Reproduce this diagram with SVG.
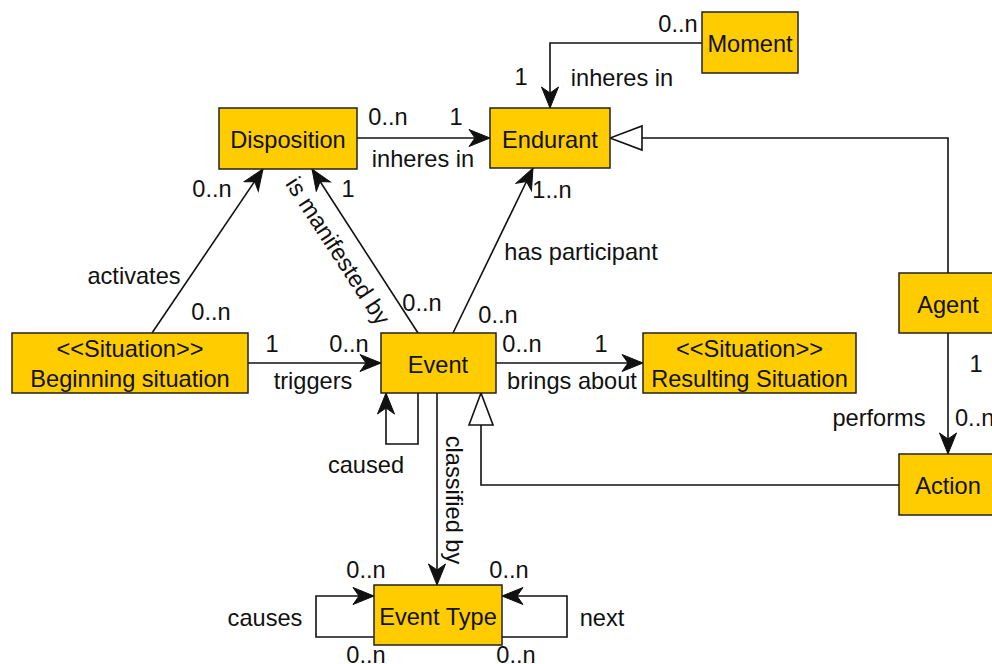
<svg xmlns="http://www.w3.org/2000/svg" width="992" height="664" viewBox="0 0 992 664">
<defs>
<style>
.box{fill:#FFCC00;stroke:#222;stroke-width:1.5}
.t{font-family:"Liberation Sans",Arial,sans-serif;font-size:23.6px;fill:#111}
.m{text-anchor:middle}
.e{stroke:#111;stroke-width:1.6;fill:none}
.a{marker-end:url(#arr)}
.g{marker-end:url(#tri)}
</style>
<marker id="arr" viewBox="-22 -10 24 20" refX="0" refY="0" markerWidth="24" markerHeight="20" markerUnits="userSpaceOnUse" orient="auto">
<path d="M0,0 L-21,-8.5 L-15,0 L-21,8.5 Z" fill="#111" stroke="#111" stroke-width="1"/>
</marker>
<marker id="tri" viewBox="-34 -14 36 28" refX="0" refY="0" markerWidth="36" markerHeight="28" markerUnits="userSpaceOnUse" orient="auto">
<path d="M0,0 L-32,-12 L-32,12 Z" fill="#fff" stroke="#111" stroke-width="1.6"/>
</marker>
</defs>
<rect width="992" height="664" fill="#fff"/>

<g id="connectors">
<path class="e a" d="M702,43 H550 V108"/>
<path class="e a" d="M357,138 H490"/>
<path class="e g" d="M948,273 V138 H610"/>
<path class="e a" d="M152,333 L263,169"/>
<path class="e a" d="M418,333 L312,169"/>
<path class="e a" d="M453,333 L533,168"/>
<path class="e a" d="M248,363 H381"/>
<path class="e a" d="M496,363 H643"/>
<path class="e a" d="M418,393 V444 H386 V393"/>
<path class="e a" d="M437,393 V585"/>
<path class="e g" d="M899,485 H481 V393"/>
<path class="e a" d="M948,333 V454"/>
<path class="e a" d="M374,637 H316 V596 H374"/>
<path class="e a" d="M502,637 H567 V596 H502"/>
</g>

<g id="labels">
<text class="t m" x="678" y="32">0..n</text>
<text class="t m" x="521" y="85">1</text>
<text class="t m" x="622" y="86">inheres in</text>
<text class="t m" x="388" y="125">0..n</text>
<text class="t m" x="456" y="125">1</text>
<text class="t m" x="423" y="167">inheres in</text>
<text class="t m" x="212" y="197">0..n</text>
<text class="t m" x="348" y="197">1</text>
<text class="t m" x="422" y="311">0..n</text>
<text class="t m" x="498" y="323">0..n</text>
<text class="t m" x="581" y="260">has participant</text>
<text class="t m" x="552" y="198">1..n</text>
<text class="t m" x="134" y="284">activates</text>
<text class="t m" x="211" y="320">0..n</text>
<text class="t m" x="272" y="352">1</text>
<text class="t m" x="349" y="352">0..n</text>
<text class="t m" x="313" y="389">triggers</text>
<text class="t m" x="366" y="473">caused</text>
<text class="t m" x="522" y="352">0..n</text>
<text class="t m" x="601" y="352">1</text>
<text class="t m" x="572" y="389">brings about</text>
<text class="t m" x="976" y="372">1</text>
<text class="t m" x="879" y="426">performs</text>
<text class="t" x="955" y="426">0..n</text>
<text class="t m" x="366" y="578">0..n</text>
<text class="t m" x="509" y="578">0..n</text>
<text class="t m" x="366" y="663">0..n</text>
<text class="t m" x="516" y="663">0..n</text>
<text class="t m" x="265" y="626">causes</text>
<text class="t m" x="602" y="626">next</text>
<text class="t m" transform="translate(338,251) rotate(57)" y="8">is manifested by</text>
<text class="t m" transform="translate(454,500) rotate(90)" y="8">classified by</text>
</g>

<g id="moment"><rect class="box" x="702" y="12" width="96" height="61"/><text class="t m" x="750" y="52">Moment</text></g>
<g id="endurant"><rect class="box" x="490" y="108" width="120" height="60"/><text class="t m" x="550" y="148">Endurant</text></g>
<g id="disposition"><rect class="box" x="219" y="108" width="138" height="61"/><text class="t m" x="288" y="148">Disposition</text></g>
<g id="beginning"><rect class="box" x="12" y="333" width="236" height="60"/><text class="t m" x="130" y="357">&lt;&lt;Situation&gt;&gt;</text><text class="t m" x="130" y="387">Beginning situation</text></g>
<g id="event"><rect class="box" x="381" y="333" width="115" height="60"/><text class="t m" x="438" y="373">Event</text></g>
<g id="resulting"><rect class="box" x="643" y="333" width="213" height="60"/><text class="t m" x="749.5" y="357">&lt;&lt;Situation&gt;&gt;</text><text class="t m" x="749.5" y="387">Resulting Situation</text></g>
<g id="agent"><rect class="box" x="899" y="273" width="98" height="60"/><text class="t m" x="948" y="313">Agent</text></g>
<g id="action"><rect class="box" x="899" y="454" width="98" height="61"/><text class="t m" x="948" y="494">Action</text></g>
<g id="eventtype"><rect class="box" x="374" y="585" width="128" height="60"/><text class="t m" x="438" y="625">Event Type</text></g>
</svg>
